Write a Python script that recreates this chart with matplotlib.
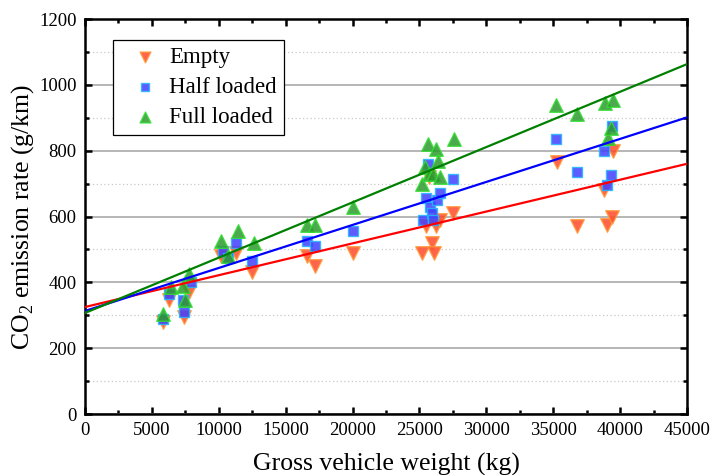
import matplotlib
matplotlib.use("Agg")
import matplotlib.pyplot as plt
from matplotlib.ticker import MultipleLocator
import numpy as np

plt.rcParams['font.family'] = ['Liberation Serif', 'DejaVu Serif']
plt.rcParams['mathtext.fontset'] = 'custom'
plt.rcParams['mathtext.rm'] = 'Liberation Serif'

empty_x = [5800, 6300, 7400, 7800, 10200, 11300, 12500, 16600, 17200, 20000,
           25200, 25500, 25700, 25900, 26100, 26200, 26500, 27500,
           35300, 36800, 38800, 39000, 39400, 39500]
empty_y = [280, 345, 295, 370, 480, 490, 430, 480, 450, 490,
           490, 570, 720, 520, 490, 570, 590, 610,
           765, 570, 680, 575, 600, 800]

half_x = [5800, 6300, 7300, 7400, 7900, 10300, 10700, 11300, 12500, 16600, 17200, 20000,
          25300, 25500, 25600, 25800, 25900, 26000, 26300, 26500, 27500,
          35200, 36800, 38800, 39000, 39300, 39400]
half_y = [290, 365, 345, 310, 400, 495, 475, 520, 465, 525, 510, 555,
          590, 655, 760, 630, 610, 590, 650, 670, 715,
          835, 735, 800, 695, 725, 875]

full_x = [5800, 6400, 7300, 7500, 7800, 10200, 10700, 11400, 12600, 16600, 17200, 20000,
          25200, 25400, 25600, 25700, 26000, 26200, 26400, 26500, 27600,
          35200, 36800, 38900, 39100, 39300, 39500]
full_y = [305, 385, 390, 345, 425, 525, 480, 555, 520, 575, 575, 630,
          700, 750, 820, 730, 730, 805, 770, 720, 835,
          940, 910, 945, 840, 870, 955]

series_names = ["Empty", "Half loaded", "Full loaded"]
fit_intercepts = [325, 313, 307]
fit_slopes = [0.00967, 0.01307, 0.0168]

x_ticks = list(range(0, 45001, 5000))
y_ticks = list(range(0, 1201, 200))

fig = plt.figure(figsize=(7.1, 4.75), dpi=100)
ax = fig.add_axes([0.1197, 0.1284, 0.848, 0.8316])

ax.set_xlim(0, 45000)
ax.set_ylim(0, 1200)

ax.set_yticks(y_ticks)
ax.yaxis.set_minor_locator(MultipleLocator(100))
ax.set_xticks(x_ticks)
ax.xaxis.set_minor_locator(MultipleLocator(2500))
ax.grid(axis='y', which='major', color='#b0b0b0', linewidth=1.3, linestyle='-')
ax.grid(axis='y', which='minor', color='#c8c8c8', linewidth=0.9, linestyle=(0, (1, 2)))
ax.set_axisbelow(True)

ax.scatter(empty_x, empty_y, marker='v', s=95, facecolor='#ff4a2a', edgecolor='#ff9a3a',
           linewidth=1.0, alpha=0.85, zorder=3, label=series_names[0])
ax.scatter(half_x, half_y, marker='s', s=60, facecolor='#4040ff', edgecolor='#22b8ff',
           linewidth=1.0, alpha=0.85, zorder=4, label=series_names[1])
ax.scatter(full_x, full_y, marker='^', s=95, facecolor='#2e9a2e', edgecolor='#30e030',
           linewidth=1.0, alpha=0.85, zorder=5, label=series_names[2])

xs = np.array([0, 45000])
for b, m, c in zip(fit_intercepts, fit_slopes, ['#ff0000', '#0000ff', '#008000']):
    ax.plot(xs, b + m * xs, color=c, linewidth=1.6, zorder=6)

for s in ax.spines.values():
    s.set_linewidth(1.8)

ax.tick_params(which='both', direction='in', top=True, right=True, labelsize=13.5,
               width=1.8, pad=6)
ax.tick_params(which='major', length=5)
ax.tick_params(which='minor', length=3)

ax.set_xlabel('Gross vehicle weight (kg)', fontsize=18.5, labelpad=10)
ax.set_ylabel(r'CO$_\mathregular{2}$ emission rate (g/km)', fontsize=18.5, labelpad=2)

leg = ax.legend(loc='upper left', bbox_to_anchor=(0.0465, 0.947), fontsize=16.5,
                frameon=True, fancybox=False, edgecolor='black', framealpha=1,
                handletextpad=-0.05, borderpad=0.3, labelspacing=0.4, handlelength=2.2,
                markerscale=0.8, borderaxespad=0)
leg.get_frame().set_linewidth(0.9)

fig.savefig('out.png', dpi=100)
